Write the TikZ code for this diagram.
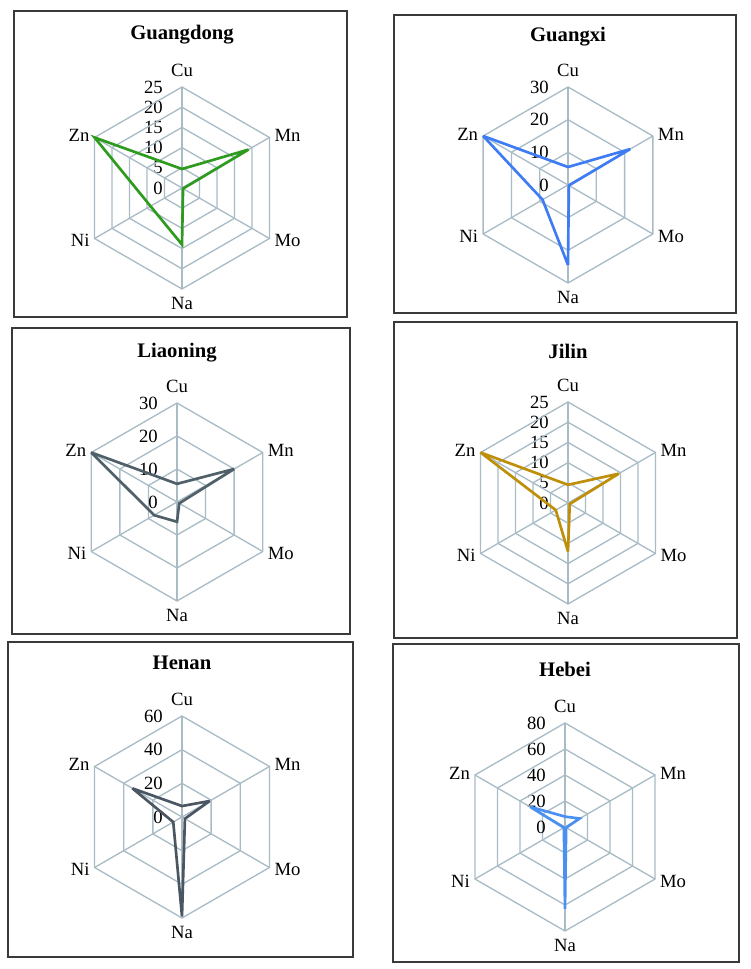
\documentclass[tikz,border=0pt]{standalone}
\usepackage{fontspec}
\setmainfont{Liberation Serif}
\usetikzlibrary{calc}

\definecolor{gridgray}{HTML}{A9BCC6}
\definecolor{framegray}{HTML}{3A3A3A}
\definecolor{gdgreen}{HTML}{2E9A1E}
\definecolor{gxblue}{HTML}{3F7CF4}
\definecolor{lnslate}{HTML}{4F6069}
\definecolor{jlgold}{HTML}{BF8F0A}
\definecolor{hnslate}{HTML}{4B5663}
\definecolor{hbblue}{HTML}{4A90F2}

\tikzset{
  panel/.style={draw=framegray, line width=1.5pt},
  ring/.style={draw=gridgray, line width=1pt},
  axislabel/.style={font=\fontsize{14}{16}\selectfont, inner sep=1pt},
  ticklabel/.style={font=\fontsize{14}{16}\selectfont, anchor=east, inner sep=0pt},
  paneltitle/.style={font=\fontsize{15.5}{18}\selectfont\bfseries},
  series/.style={line width=2pt, line join=miter, miter limit=4}
}

\begin{document}
\begin{tikzpicture}[x=0.75pt,y=0.75pt]
  \useasboundingbox (0,0) rectangle (750,969);

  \foreach \n/\bl/\bb/\br/\bt/\cx/\cy/\ty/\R/\col/\mx/\nr/\vals in {
    Guangdong/14/652/347/958/182/781/934/101/gdgreen/25/5/{4.7,19,0.3,14,9,25},
    Guangxi/394/656/736/954/568/784/932/98/gxblue/30/3/{5.5,22,0.3,24.5,9,30},
    Liaoning/12/335/350/641/177/467/616/99/lnslate/30/3/{5.5,20,0.8,6,8,30},
    Jilin/394/331/737/647/568/466/618/101/jlgold/25/5/{4.5,14.5,0.5,12,3.5,25},
    Henan/8/12/353/327/182/152/306/101/hnslate/60/3/{6.5,19,2,59,6,34},
    Hebei/393/7/739/325/565/142/300/104/hbblue/80/4/{8,13,1,63,1,31}} {
    \draw[panel] (\bl,\bb) rectangle (\br,\bt);
    \node[paneltitle] (\n-title) at (\cx,\ty) {\n};
    \coordinate (\n-c) at (\cx,\cy);

    \foreach \k in {1,...,\nr} {
      \pgfmathsetmacro\rr{\k*\R/\nr}
      \pgfmathtruncatemacro\tv{\k*\mx/\nr}
      \draw[ring] ($(\n-c)+(90:\rr)$) -- ($(\n-c)+(30:\rr)$) -- ($(\n-c)+(-30:\rr)$)
        -- ($(\n-c)+(-90:\rr)$) -- ($(\n-c)+(-150:\rr)$) -- ($(\n-c)+(150:\rr)$) -- cycle;
      \node[ticklabel] at ($(\n-c)+(-19,\rr)$) {\tv};
    }
    \node[ticklabel] at ($(\n-c)+(-19,0)$) {0};

    \foreach \a/\lab/\anc/\d in {90/Cu/south/9,30/Mn/west/4,-30/Mo/west/4,-90/Na/north/7,-150/Ni/east/4,150/Zn/east/4} {
      \draw[ring] (\n-c) -- ($(\n-c)+(\a:\R)$);
      \node[axislabel, anchor=\anc] (\n-\lab) at ($(\n-c)+(\a:\R+\d)$) {\lab};
    }

    \foreach \v [count=\k] in \vals {
      \coordinate (\n-p\k) at ($(\n-c)+({90-60*(\k-1)}:{\v*\R/\mx})$);
    }
    \draw[series, draw=\col] (\n-p1) -- (\n-p2) -- (\n-p3) -- (\n-p4) -- (\n-p5) -- (\n-p6) -- cycle;
  }
\end{tikzpicture}
\end{document}
